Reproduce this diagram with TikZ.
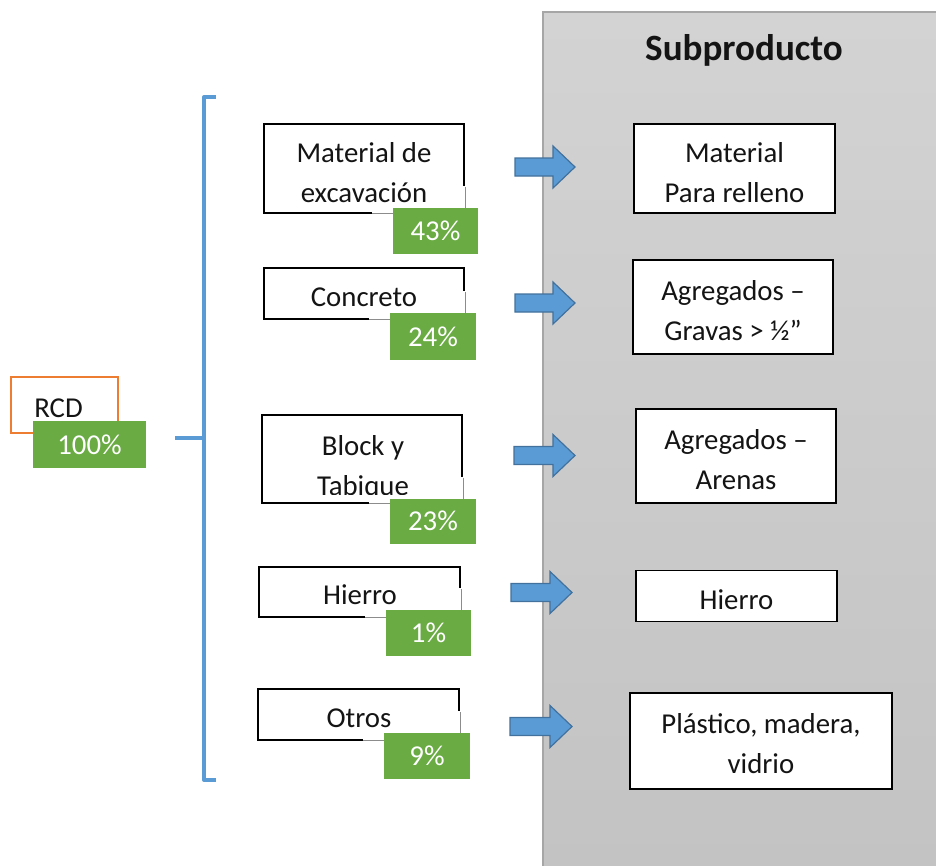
\documentclass[tikz,border=0pt]{standalone}
\usepackage{fontspec}
\setmainfont{Carlito}
\definecolor{grn}{RGB}{106,171,68}
\definecolor{org}{RGB}{237,125,49}
\definecolor{blu}{RGB}{91,155,213}
\definecolor{bludk}{RGB}{65,113,156}
\definecolor{pedge}{RGB}{166,166,166}
\definecolor{ptop}{RGB}{211,211,211}
\definecolor{pbot}{RGB}{195,195,195}
\definecolor{ink}{RGB}{20,20,20}
\newcommand\mysz{\fontsize{21.6}{30}\selectfont}
\begin{document}
\begin{tikzpicture}[x=0.75pt,y=-0.75pt,
  sz/.style 2 args={minimum width=#1*0.75pt,minimum height=#2*0.75pt},
  box/.style={draw=black,line width=0.9pt,fill=white,inner sep=0pt},
  txt/.style={inner sep=0pt,align=center,font=\mysz,text=ink},
  pct/.style={fill=grn,text=white,inner sep=0pt,font=\mysz},
  fade/.style={draw=white,line width=1.6pt},
  faint/.style={draw=black!45,line width=0.7pt},
  barrow/.style={fill=blu,draw=bludk,line width=0.9pt,line join=miter},
  brace/.style={draw=blu,line width=3pt,line join=round}]
\useasboundingbox (0,0) rectangle (936,865);
% panel
\shade[top color=ptop,bottom color=pbot] (542,12) rectangle (940,870);
\draw[pedge,line width=2.2pt] (543,870) -- (543,12) -- (940,12);
\node[font=\fontsize{27.8}{32}\selectfont\bfseries,text=ink,inner sep=0pt] (title) at (744,50) {Subproducto};

% RCD
\node[draw=org,line width=1.6pt,fill=white,inner sep=0pt,sz={107}{56}] (rcd) at (64.5,405) {};
\node[txt] (rcdt) at (58.5,408) {RCD};
\node[pct,sz={113}{47}] (g0) at (89.5,444.5) {100\%};

% brace
\coordinate (bt) at (216,97);
\coordinate (bb) at (216,780);
\coordinate (bm) at (204,438);
\coordinate (bl) at (175,438);
\draw[brace] (bt) -- (204,97) -- (204,780) -- (bb);
\draw[brace] (bl) -- (bm);

% left boxes
\node[box,sz={200}{89}] (l1) at (364,168.5) {};
\node[box,sz={200}{51}] (l2) at (364,293.5) {};
\node[box,sz={200}{88}] (l3) at (362,459) {};
\node[box,sz={201}{50}] (l4) at (359.5,592) {};
\node[box,sz={201}{51}] (l5) at (358.5,714.5) {};
% faded border parts near the green labels
\foreach \xr/\yb/\gl/\gt in {464/213/393/208, 464/319/390/313, 462/503/390/498.5, 460/617/386/610, 459/740/384/733}{
  \draw[fade] (\gl-21,\yb) -- (\gl,\yb);
  \draw[fade] (\xr,\gt-22) -- (\xr,\gt);
  \draw[faint] (\gl-21,\yb) -- (\gl,\yb);
  \draw[faint] (\xr+1,\gt-21) -- (\xr+1,\gt);
}
\node[txt] (t1) at (364,172.5) {Material de\\excavación};
\node[txt] (t2) at (364,297.5) {Concreto};
\begin{scope}
\clip (262,415) rectangle (462,494);
\node[txt] (t3) at (363,468) {Block y\\Tabique};
\end{scope}
\node[txt] (t4) at (360,595) {Hierro};
\node[txt] (t5) at (359,718) {Otros};

\node[pct,sz={85}{46}] (g1) at (435.5,231) {43\%};
\node[pct,sz={86}{47}] (g2) at (433,336.5) {24\%};
\node[pct,sz={86}{45}] (g3) at (433,521) {23\%};
\node[pct,sz={85}{46}] (g4) at (428.5,633) {1\%};
\node[pct,sz={86}{46}] (g5) at (427,756) {9\%};

% arrows
\foreach \a/\y/\b [count=\i] in {515/167/575, 515/303/575, 514/455.5/575, 511/592.5/572, 510/726.5/572}{
  \coordinate (arr\i) at (\a,\y);
  \draw[barrow] (\a,\y-9) -- (\b-22,\y-9) -- (\b-22,\y-21) -- (\b,\y) -- (\b-22,\y+21) -- (\b-22,\y+9) -- (\a,\y+9) -- cycle;
}

% right boxes
\node[box,sz={201}{89}] (r1) at (734.5,168.5) {};
\node[txt] (rt1) at (734.5,172.5) {Material\\Para relleno};
\node[box,sz={200}{94}] (r2) at (733,307) {};
\node[txt] (rt2) at (733,311) {Agregados –\\Gravas > ½”};
\node[box,sz={200}{94}] (r3) at (736,456) {};
\node[txt] (rt3) at (736,460) {Agregados –\\Arenas};
\node[box,sz={201}{51}] (r4) at (736.5,596) {};
\node[txt] (rt4) at (736.5,600) {Hierro};
\node[box,sz={262}{96}] (r5) at (761,741) {};
\node[txt] (rt5) at (761,744) {Plástico, madera,\\vidrio};
\end{tikzpicture}
\end{document}
